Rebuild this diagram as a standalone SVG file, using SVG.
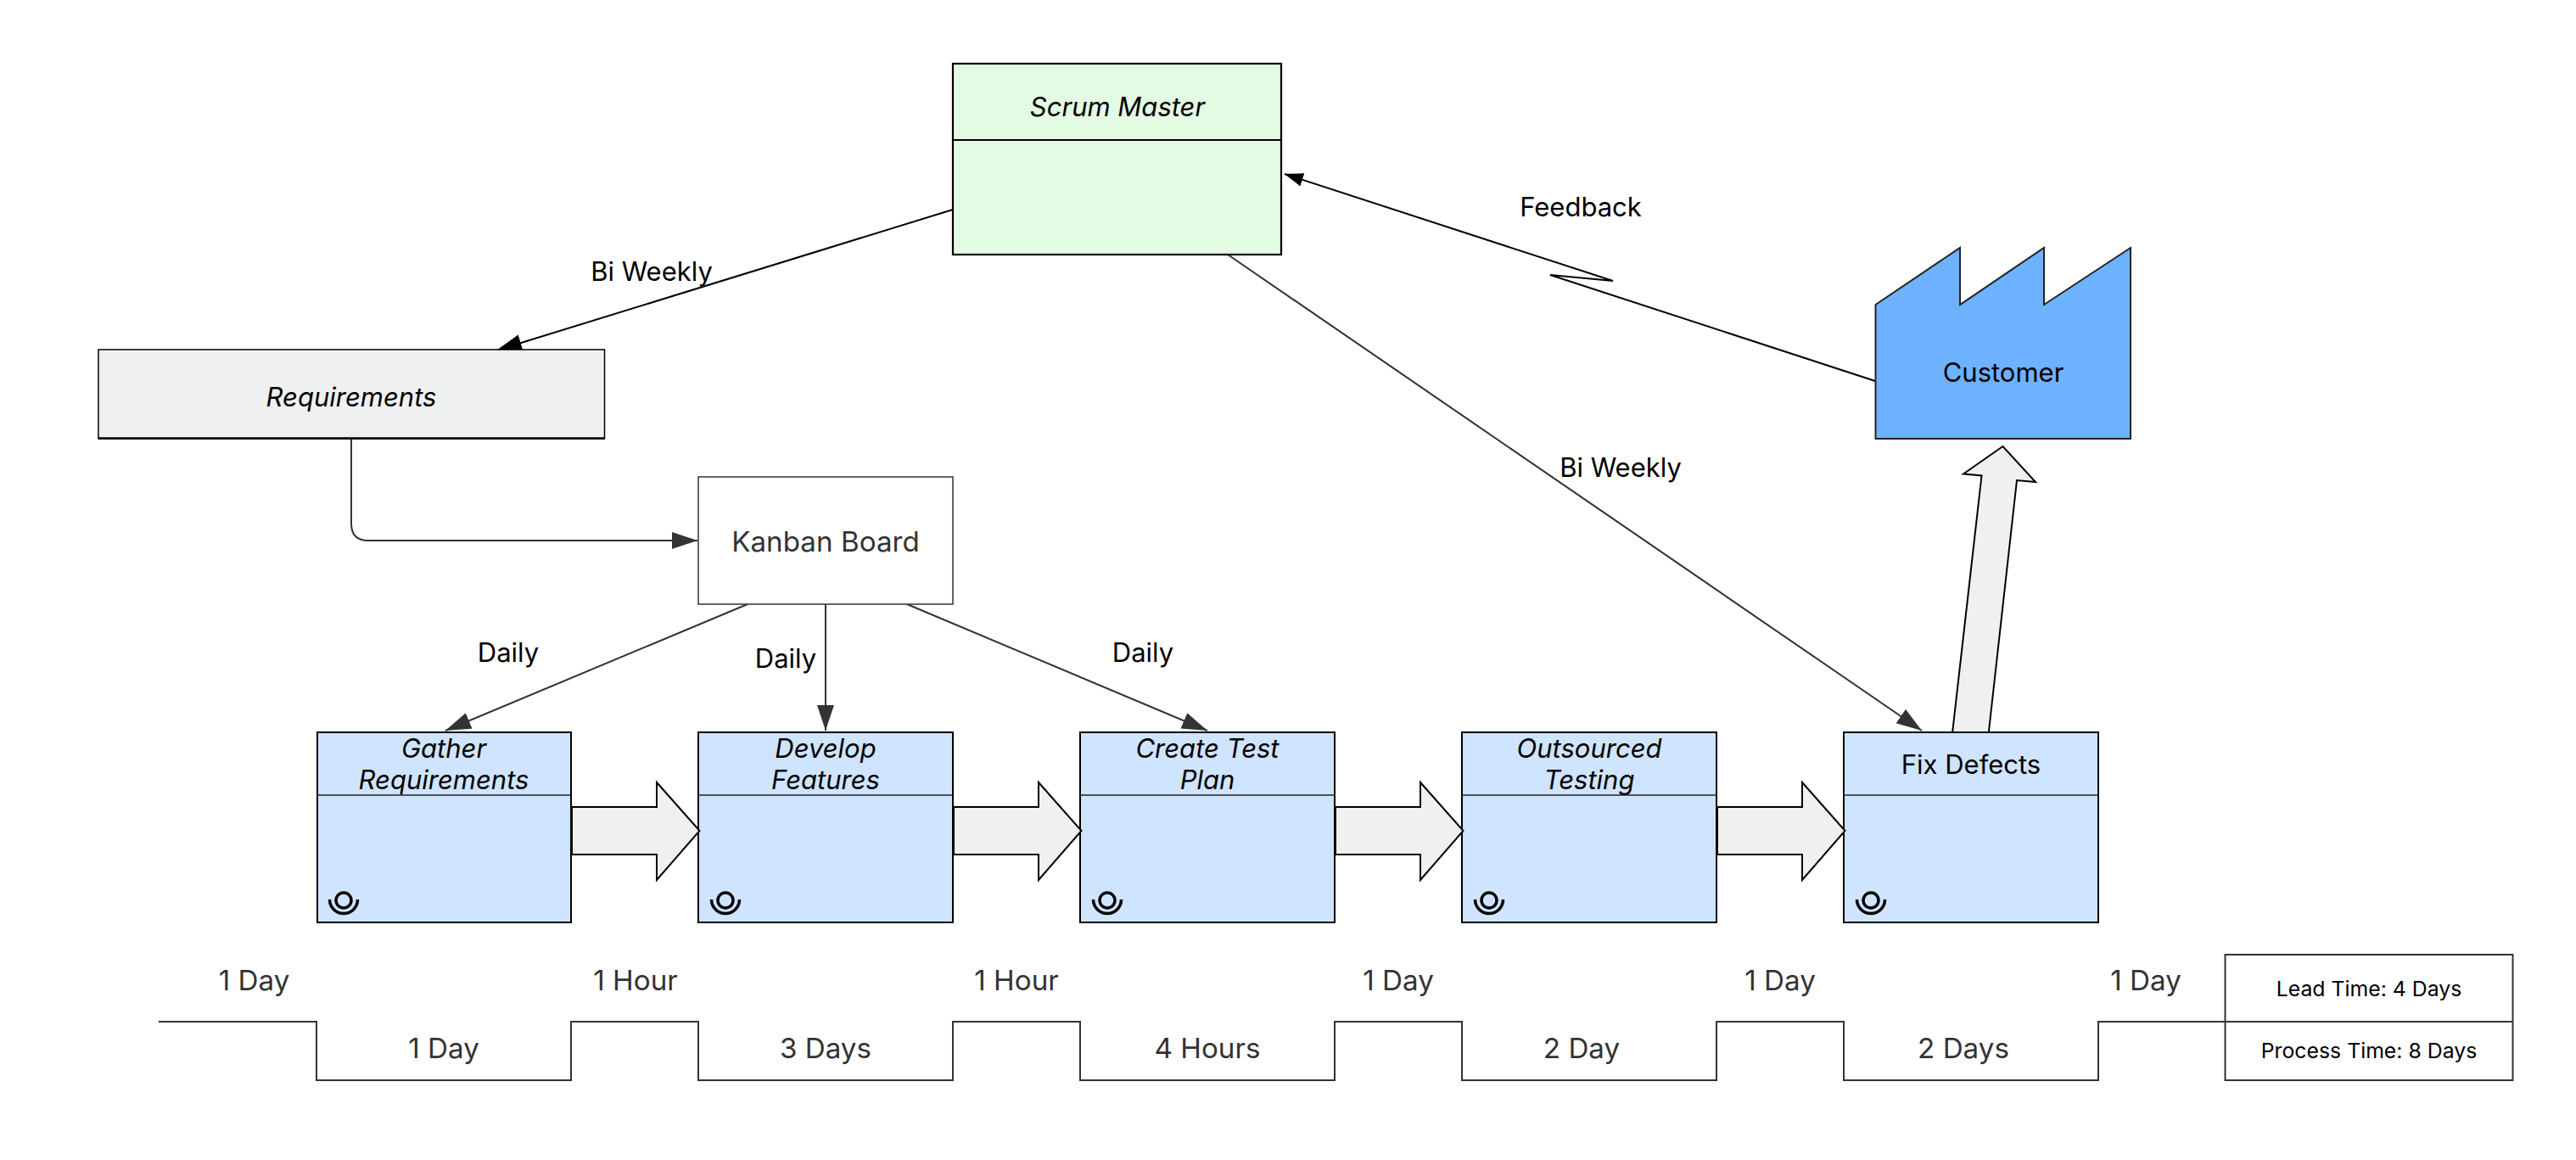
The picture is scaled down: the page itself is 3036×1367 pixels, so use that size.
<svg xmlns="http://www.w3.org/2000/svg" width="3036" height="1367" viewBox="0 0 3036 1367">
<style>
text{font-family:Inter,"Liberation Sans",sans-serif;font-size:31px;text-anchor:middle;fill:#000}
.i{font-style:italic}
.g{fill:#333;font-size:33.200px}
.s{font-size:24.800px}
.box{fill:#cfe4ff;stroke:#000;stroke-width:2}
.div{stroke:#222;stroke-width:1.500;fill:none}
.big{fill:#eff0f0;stroke:#000;stroke-width:2}
.c{fill:none;stroke:#333;stroke-width:2}
.k{fill:none;stroke:#000;stroke-width:2}
.t{fill:none;stroke:#333;stroke-width:2}
.op{fill:none;stroke:#000;stroke-width:3.500}
</style>
<defs>
<marker id="a" markerUnits="userSpaceOnUse" markerWidth="32" markerHeight="22" refX="30" refY="10" orient="auto"><path d="M0 0L30 10L0 20Z" fill="#333"/></marker>
<marker id="b" markerUnits="userSpaceOnUse" markerWidth="32" markerHeight="22" refX="30" refY="10" orient="auto"><path d="M0 0L30 10L0 20Z" fill="#000"/></marker>
<marker id="f" markerUnits="userSpaceOnUse" markerWidth="24" markerHeight="18" refX="22" refY="8" orient="auto"><path d="M0 0L22 8L0 16Z" fill="#000"/></marker>
<g id="op"><circle cx="0" cy="0" r="9" class="op"/><path d="M-16.500 -1A16.500 16.500 0 0 0 16.500 -1" class="op"/></g>
</defs>
<g id="connectors">
<path class="k" marker-end="url(#b)" d="M1123 247L585 413"/>
<path class="k" marker-end="url(#f)" d="M2210 449L1827 324L1901 331L1514 205"/>
<path class="c" marker-end="url(#a)" d="M1447 300L2265 861"/>
<path class="c" marker-end="url(#a)" d="M414 517V617Q414 637 434 637H822"/>
<path class="c" marker-end="url(#a)" d="M881 712L525 861"/>
<path class="c" marker-end="url(#a)" d="M973 712V861"/>
<path class="c" marker-end="url(#a)" d="M1069 712L1423 861"/>
<path id="push-up" class="big" d="M2301 864L2335.500 560.500L2314 558.500L2360.500 526L2399 568L2377 566L2343.500 866Z"/>
</g>
<g id="scrum-master"><rect x="1123" y="75" width="387" height="225" fill="#e3fae3" stroke="#000" stroke-width="2.200"/><path stroke="#000" stroke-width="2" d="M1123 165H1510"/><text class="i" x="1317" y="137">Scrum Master</text></g>
<g id="customer"><path d="M2210.500 359L2310 292V359L2409 292V359L2511 292V517H2210.500Z" fill="#6db1ff" stroke="#222" stroke-width="2"/><text x="2361" y="450">Customer</text></g>
<g id="requirements"><rect x="116" y="412" width="596.500" height="105" fill="#eff0f0" stroke="#000" stroke-width="1.500"/><path stroke="#000" stroke-width="2.500" d="M116 516.500H712.500"/><text class="i" x="414" y="479">Requirements</text></g>
<g id="kanban"><rect x="823" y="562" width="300" height="150" fill="#fff" stroke="#333" stroke-width="1.500"/><text class="g" x="973" y="650">Kanban Board</text></g>
<g id="gather"><rect class="box" x="374" y="863" width="299" height="224"/><path class="div" d="M374 937H673"/><text class="i" x="523" y="893">Gather</text><text class="i" x="523" y="930">Requirements</text><use href="#op" x="405" y="1061"/></g>
<g id="develop"><rect class="box" x="823" y="863" width="300" height="224"/><path class="div" d="M823 937H1123"/><text class="i" x="973" y="893">Develop</text><text class="i" x="973" y="930">Features</text><use href="#op" x="855" y="1061"/></g>
<g id="create"><rect class="box" x="1273" y="863" width="300" height="224"/><path class="div" d="M1273 937H1573"/><text class="i" x="1423" y="893">Create Test</text><text class="i" x="1423" y="930">Plan</text><use href="#op" x="1305" y="1061"/></g>
<g id="outsourced"><rect class="box" x="1723" y="863" width="300" height="224"/><path class="div" d="M1723 937H2023"/><text class="i" x="1873" y="893">Outsourced</text><text class="i" x="1873" y="930">Testing</text><use href="#op" x="1755" y="1061"/></g>
<g id="fix"><rect class="box" x="2173" y="863" width="300" height="224"/><path class="div" d="M2173 937H2473"/><text x="2323" y="912">Fix Defects</text><use href="#op" x="2205" y="1061"/></g>
<g id="push-arrows">
<path class="big" d="M674 951H774V922L824.500 979L774 1037V1007H674Z"/>
<path class="big" d="M1124 951H1224V922L1274.500 979L1224 1037V1007H1124Z"/>
<path class="big" d="M1574 951H1674V922L1724.500 979L1674 1037V1007H1574Z"/>
<path class="big" d="M2024 951H2124V922L2174.500 979L2124 1037V1007H2024Z"/>
</g>
<g id="labels">
<text x="768" y="331">Bi Weekly</text>
<text x="1863" y="255">Feedback</text>
<text x="1910" y="562">Bi Weekly</text>
<text x="599" y="780">Daily</text>
<text x="926" y="787">Daily</text>
<text x="1347" y="780">Daily</text>
</g>
<g id="timeline">
<path class="t" d="M187 1204H373V1273H673V1204H823V1273H1123V1204H1273V1273H1573V1204H1723V1273H2023V1204H2173V1273H2473V1204H2622"/>
<text class="g" x="299.500" y="1167">1 Day</text><text class="g" x="749" y="1167">1 Hour</text><text class="g" x="1198" y="1167">1 Hour</text><text class="g" x="1648" y="1167">1 Day</text><text class="g" x="2098" y="1167">1 Day</text><text class="g" x="2529" y="1167">1 Day</text>
<text class="g" x="523" y="1247">1 Day</text><text class="g" x="973" y="1247">3 Days</text><text class="g" x="1423" y="1247">4 Hours</text><text class="g" x="1864" y="1247">2 Day</text><text class="g" x="2314" y="1247">2 Days</text>
</g>
<g id="summary"><rect x="2622.500" y="1125" width="339" height="148" fill="#fff" stroke="#333" stroke-width="2"/><path class="t" d="M2622 1204H2962"/><text class="s" x="2792" y="1174">Lead Time: 4 Days</text><text class="s" x="2792" y="1247">Process Time: 8 Days</text></g>
</svg>
